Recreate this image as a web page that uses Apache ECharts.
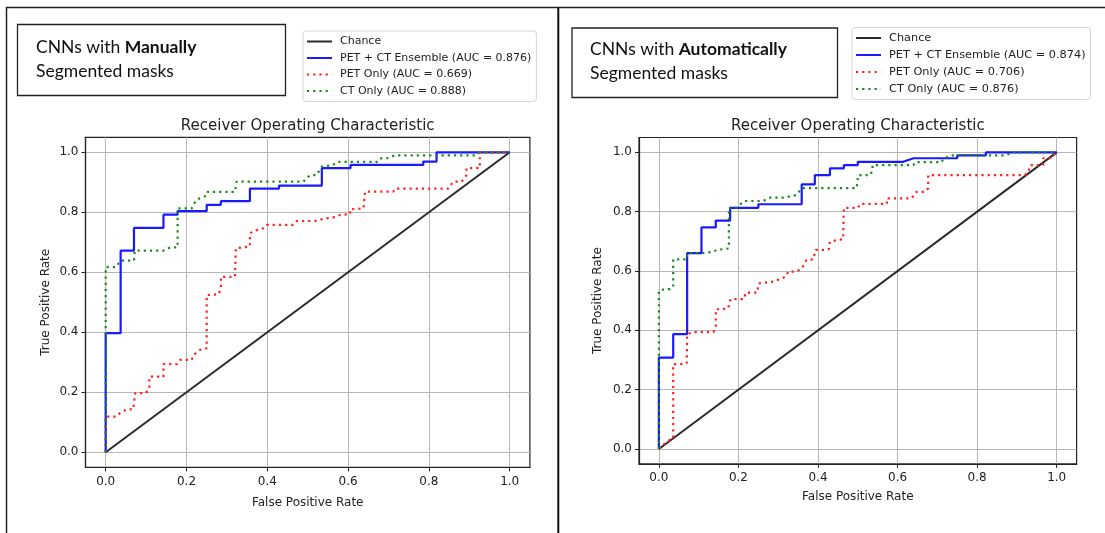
<!DOCTYPE html>
<html>
<head>
<meta charset="utf-8">
<script src="https://cdn.jsdelivr.net/npm/echarts@6/dist/echarts.min.js"></script>
<style>
html,body{margin:0;padding:0;background:#fff;}
#chart{width:1105px;height:533px;}
</style>
</head>
<body>
<div id="chart"></div>
<script>
// ---- data ----
const tickValues = [0, 0.2, 0.4, 0.6, 0.8, 1.0];
const chartTitle = 'Receiver Operating Characteristic';
const xAxisName = 'False Positive Rate';
const yAxisName = 'True Positive Rate';

const manualNames = ['Chance', 'PET + CT Ensemble (AUC = 0.876)', 'PET Only (AUC = 0.669)', 'CT Only (AUC = 0.888)'];
const autoNames = ['Chance', 'PET + CT Ensemble (AUC = 0.874)', 'PET Only (AUC = 0.706)', 'CT Only (AUC = 0.876)'];
const manualHeading = ['CNNs with ', 'Manually', 'Segmented masks'];
const autoHeading = ['CNNs with ', 'Automatically', 'Segmented masks'];

const chanceLine = [[0, 0], [1, 1]];

const manualEnsemble = [[0,0],[0,0.397],[0.037,0.397],[0.037,0.672],[0.070,0.672],[0.070,0.748],[0.143,0.748],[0.143,0.792],[0.178,0.792],[0.178,0.804],[0.25,0.804],[0.25,0.825],[0.285,0.825],[0.285,0.837],[0.357,0.837],[0.357,0.879],[0.429,0.879],[0.429,0.889],[0.535,0.889],[0.535,0.947],[0.606,0.947],[0.606,0.958],[0.786,0.958],[0.786,0.969],[0.819,0.969],[0.819,1],[1,1]];
const manualPET = [[0,0],[0,0.119],[0.027,0.119],[0.035,0.13],[0.052,0.143],[0.068,0.143],[0.073,0.197],[0.099,0.197],[0.108,0.213],[0.108,0.252],[0.143,0.252],[0.143,0.294],[0.176,0.294],[0.184,0.308],[0.213,0.308],[0.217,0.324],[0.233,0.341],[0.25,0.347],[0.25,0.524],[0.28,0.527],[0.285,0.552],[0.285,0.585],[0.32,0.585],[0.322,0.68],[0.341,0.683],[0.357,0.686],[0.357,0.73],[0.37,0.739],[0.39,0.747],[0.398,0.758],[0.464,0.758],[0.473,0.771],[0.518,0.771],[0.535,0.777],[0.563,0.783],[0.58,0.791],[0.605,0.794],[0.605,0.81],[0.638,0.813],[0.642,0.869],[0.712,0.869],[0.716,0.879],[0.848,0.879],[0.86,0.902],[0.881,0.902],[0.893,0.924],[0.893,0.947],[0.926,0.947],[0.926,1],[1,1]];
const manualCT = [[0,0],[0,0.617],[0.025,0.617],[0.037,0.639],[0.07,0.639],[0.072,0.672],[0.143,0.672],[0.16,0.683],[0.178,0.683],[0.178,0.813],[0.213,0.813],[0.222,0.836],[0.233,0.847],[0.25,0.855],[0.252,0.868],[0.32,0.868],[0.324,0.902],[0.489,0.902],[0.506,0.924],[0.522,0.924],[0.535,0.952],[0.563,0.958],[0.572,0.968],[0.671,0.968],[0.679,0.98],[0.696,0.98],[0.716,0.99],[0.918,0.99],[0.926,1],[1,1]];

const autoEnsemble = [[0,0],[0,0.308],[0.036,0.308],[0.036,0.387],[0.071,0.387],[0.071,0.66],[0.107,0.66],[0.107,0.747],[0.143,0.747],[0.143,0.77],[0.179,0.77],[0.179,0.813],[0.25,0.813],[0.25,0.825],[0.359,0.825],[0.359,0.892],[0.392,0.892],[0.392,0.923],[0.43,0.923],[0.43,0.946],[0.465,0.946],[0.465,0.957],[0.5,0.957],[0.5,0.968],[0.614,0.968],[0.64,0.98],[0.75,0.98],[0.75,0.99],[0.822,0.99],[0.822,1],[1,1]];
const autoPET = [[0,0],[0.02,0.025],[0.036,0.036],[0.036,0.286],[0.053,0.286],[0.07,0.289],[0.071,0.387],[0.086,0.394],[0.137,0.394],[0.143,0.407],[0.143,0.471],[0.158,0.471],[0.174,0.474],[0.18,0.505],[0.214,0.505],[0.218,0.527],[0.247,0.527],[0.251,0.558],[0.267,0.561],[0.287,0.564],[0.304,0.572],[0.321,0.583],[0.325,0.598],[0.346,0.598],[0.359,0.609],[0.371,0.637],[0.388,0.639],[0.394,0.671],[0.413,0.671],[0.427,0.673],[0.43,0.699],[0.447,0.704],[0.463,0.707],[0.465,0.813],[0.501,0.813],[0.505,0.826],[0.573,0.826],[0.573,0.845],[0.635,0.845],[0.648,0.867],[0.669,0.867],[0.677,0.879],[0.677,0.923],[0.92,0.923],[0.929,0.935],[0.933,0.957],[0.966,0.957],[0.966,0.98],[0.983,0.98],[1,1]];
const autoCT = [[0,0],[0,0.533],[0.015,0.539],[0.028,0.539],[0.036,0.547],[0.036,0.639],[0.07,0.639],[0.071,0.66],[0.107,0.66],[0.137,0.665],[0.145,0.671],[0.176,0.676],[0.176,0.813],[0.195,0.813],[0.214,0.836],[0.262,0.836],[0.279,0.847],[0.313,0.847],[0.346,0.856],[0.359,0.879],[0.497,0.879],[0.499,0.901],[0.501,0.923],[0.531,0.923],[0.537,0.94],[0.537,0.957],[0.64,0.957],[0.644,0.967],[0.711,0.967],[0.715,0.98],[0.74,0.99],[0.87,0.99],[0.891,1],[1,1]];

// ---- chart ----
const FONT = 'DejaVu Sans';
const TXT = '#222';
const chart = echarts.init(document.getElementById('chart'), null, {renderer: 'canvas'});

function mkAxis(isX, idx, nameGap, labelMargin) {
  return {
    type: 'value', gridIndex: idx, min: -0.05, max: 1.05,
    name: isX ? xAxisName : yAxisName,
    nameLocation: 'middle', nameGap: nameGap,
    nameTextStyle: {fontFamily: FONT, fontSize: 12, color: TXT},
    axisLine: {show: true, onZero: false, lineStyle: {color: '#222', width: 1.2}},
    axisTick: {show: true, length: 4, customValues: tickValues, lineStyle: {color: '#222', width: 1}},
    axisLabel: {customValues: tickValues, margin: labelMargin, fontFamily: FONT, fontSize: 12, color: TXT,
      formatter: v => v.toFixed(1)},
    splitLine: {show: true, lineStyle: {color: '#b8b8b8', width: 1}}
  };
}

const grids = [
  {left: 85.5, top: 137.3, width: 444.4, height: 330},
  {left: 639, top: 137.5, width: 437.6, height: 326.3}
];

function mkSeries(names, ens, pet, ct, idx) {
  const base = {type: 'line', xAxisIndex: idx, yAxisIndex: idx, symbol: 'none', showSymbol: false, animation: false, silent: true};
  return [
    Object.assign({}, base, {name: names[0], data: chanceLine, lineStyle: {color: '#2a2a2a', width: 2}, itemStyle: {color: '#2a2a2a'}}),
    Object.assign({}, base, {name: names[1], data: ens, lineStyle: {color: '#1a1aff', width: 2.2}, itemStyle: {color: '#1a1aff'}}),
    Object.assign({}, base, {name: names[2], data: pet, lineStyle: {color: '#ff2020', width: 2.2, type: [2.2, 4]}, itemStyle: {color: '#ff2020'}}),
    Object.assign({}, base, {name: names[3], data: ct, lineStyle: {color: '#1a8a1a', width: 2.2, type: [2.2, 4]}, itemStyle: {color: '#1a8a1a'}})
  ];
}

function mkLegend(names, left, top, fs, gap, padTop, padBottom) {
  return {
    data: names, left: left, top: top, orient: 'vertical',
    itemWidth: 25, itemHeight: 12, itemGap: gap,
    padding: [padTop, 5, padBottom, 3],
    backgroundColor: '#fff', borderColor: '#d4d4d4', borderWidth: 1, borderRadius: 3,
    selectedMode: false,
    itemStyle: {color: 'rgba(0,0,0,0)', borderWidth: 0, opacity: 0},
    textStyle: {fontFamily: FONT, fontSize: fs, color: TXT, padding: [0, 0, 0, 3]}
  };
}

function heading(parts, x, y) {
  return {
    type: 'text', left: x, top: y,
    style: {
      text: '{n|' + parts[0] + '}{b|' + parts[1] + '}\n{n|' + parts[2] + '}',
      rich: {
        n: {fontFamily: 'Lato', fontSize: 17.5, fill: '#111', lineHeight: 23.5},
        b: {fontFamily: 'Lato', fontSize: 17.5, fontWeight: 'bold', fill: '#111', lineHeight: 23.5}
      }
    }
  };
}

const option = {
  backgroundColor: '#fff',
  animation: false,
  title: [
    {text: chartTitle, left: 307.7, top: 119, textAlign: 'center', padding: 0,
      textStyle: {fontFamily: FONT, fontSize: 15, fontWeight: 'normal', color: TXT}},
    {text: chartTitle, left: 857.8, top: 119, textAlign: 'center', padding: 0,
      textStyle: {fontFamily: FONT, fontSize: 15, fontWeight: 'normal', color: TXT}}
  ],
  grid: grids.map(g => Object.assign({show: true, borderColor: '#222', borderWidth: 1.2, backgroundColor: 'transparent', containLabel: false}, g)),
  xAxis: [mkAxis(true, 0, 30, 9), mkAxis(true, 1, 27, 8)],
  yAxis: [mkAxis(false, 0, 34, 7), mkAxis(false, 1, 35, 7)],
  legend: [mkLegend(manualNames, 303, 31, 11, 5.5, 5, 5), mkLegend(autoNames, 852, 27.5, 11.3, 6.0, 5, 5)],
  series: [].concat(
    mkSeries(manualNames, manualEnsemble, manualPET, manualCT, 0),
    mkSeries(autoNames, autoEnsemble, autoPET, autoCT, 1)
  ),
  graphic: [
    {type: 'line', shape: {x1: 6, y1: 7.5, x2: 1105, y2: 7.5}, style: {stroke: '#222', lineWidth: 1.5}},
    {type: 'line', shape: {x1: 6.5, y1: 7, x2: 6.5, y2: 533}, style: {stroke: '#222', lineWidth: 1.5}},
    {type: 'line', shape: {x1: 558.3, y1: 7, x2: 558.3, y2: 533}, style: {stroke: '#111', lineWidth: 2}},
    {type: 'rect', shape: {x: 17.5, y: 24.5, width: 268, height: 71}, style: {fill: 'none', stroke: '#222', lineWidth: 1.3}},
    {type: 'rect', shape: {x: 572, y: 28, width: 265.5, height: 69.5}, style: {fill: 'none', stroke: '#222', lineWidth: 1.3}},
    heading(manualHeading, 36, 38.5),
    heading(autoHeading, 590, 40.5)
  ]
};
chart.setOption(option);
</script>
</body>
</html>
